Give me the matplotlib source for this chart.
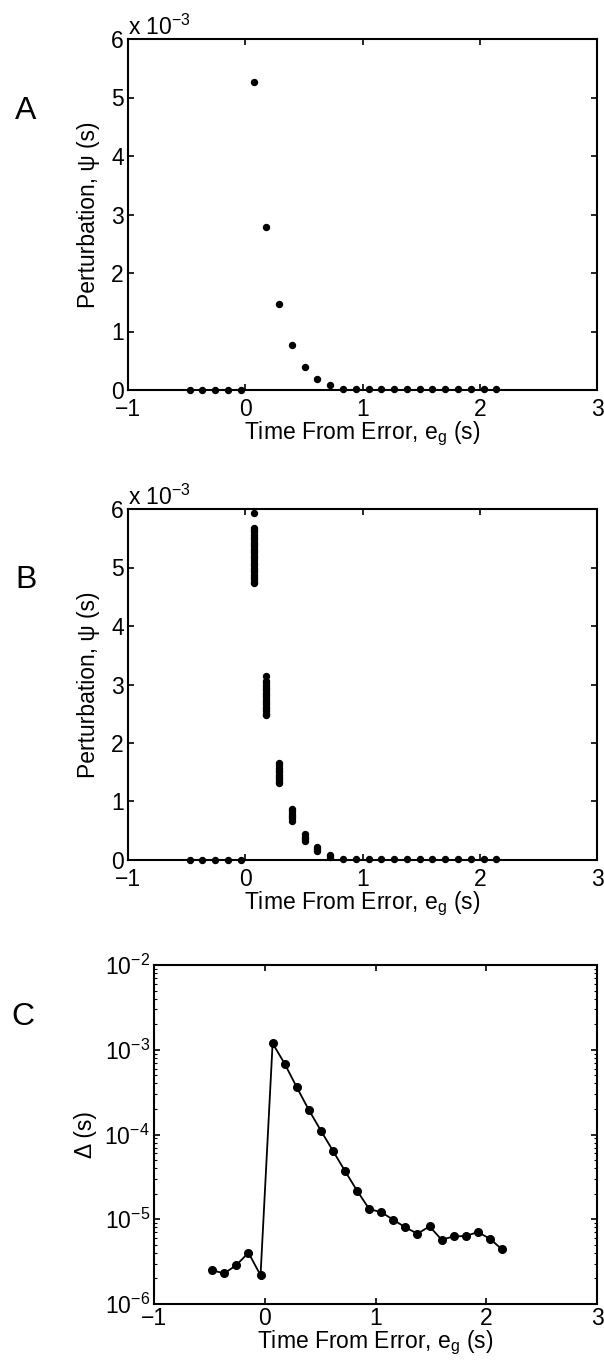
import matplotlib
matplotlib.use("Agg")
import matplotlib.pyplot as plt
from matplotlib.ticker import FixedLocator, FixedFormatter, LogLocator, NullFormatter

plt.rcParams['font.family'] = ['Liberation Sans', 'DejaVu Sans']
plt.rcParams['mathtext.fontset'] = 'custom'
plt.rcParams['mathtext.rm'] = 'Liberation Sans'
plt.rcParams['mathtext.it'] = 'Liberation Sans:italic'
plt.rcParams['mathtext.default'] = 'regular'

# ---------------- data ----------------
time_s = [-0.474, -0.365, -0.256, -0.147, -0.038, 0.071, 0.180, 0.289, 0.398,
          0.507, 0.616, 0.725, 0.834, 0.943, 1.052, 1.161, 1.270, 1.379,
          1.488, 1.597, 1.706, 1.815, 1.924, 2.033, 2.142]

# Panel A: perturbation psi (units of 1e-3 s)
psi_a = [0.0, 0.0, 0.0, 0.0, 0.0, 5.27, 2.78, 1.47, 0.77, 0.39, 0.19, 0.085,
         0.025, 0.02, 0.025, 0.025, 0.025, 0.025, 0.025, 0.025, 0.025, 0.025,
         0.025, 0.02, 0.02]

# Panel B: many trials per time bin (units of 1e-3 s)
psi_b = [
    [0.0], [0.0], [0.0], [0.0], [0.0],
    [5.93, 5.68, 5.64, 5.60, 5.56, 5.52, 5.48, 5.44, 5.40, 5.36, 5.32, 5.28,
     5.24, 5.20, 5.16, 5.12, 5.08, 5.04, 5.00, 4.96, 4.92, 4.88, 4.84, 4.80,
     4.76, 4.74],
    [3.15, 3.06, 3.02, 2.98, 2.94, 2.90, 2.86, 2.82, 2.78, 2.74, 2.70, 2.66,
     2.62, 2.58, 2.54, 2.50, 2.48],
    [1.66, 1.62, 1.58, 1.54, 1.50, 1.46, 1.42, 1.38, 1.34, 1.31],
    [0.87, 0.83, 0.79, 0.75, 0.71, 0.67],
    [0.44, 0.40, 0.36, 0.32],
    [0.22, 0.19, 0.15],
    [0.08, 0.05],
    [0.025], [0.02], [0.025], [0.025], [0.025], [0.025], [0.025], [0.025],
    [0.025], [0.025], [0.025], [0.025], [0.02], [0.02], [0.02],
]

# Panel C: Delta (s)
delta_c = [2.49e-6, 2.30e-6, 2.88e-6, 4.03e-6, 2.18e-6, 1.19e-3, 6.84e-4,
           3.61e-4, 1.95e-4, 1.11e-4, 6.41e-5, 3.70e-5, 2.17e-5, 1.32e-5,
           1.21e-5, 9.86e-6, 8.01e-6, 6.75e-6, 8.24e-6, 5.73e-6, 6.28e-6,
           6.34e-6, 7.06e-6, 5.89e-6, 4.41e-6]

x_ticks = [-1, 0, 1, 2, 3]
x_ticklabels = ['\u22121', '0', '1', '2', '3']
psi_ticks = [0, 1, 2, 3, 4, 5, 6]
delta_ticks = [1e-6, 1e-5, 1e-4, 1e-3, 1e-2]
delta_ticklabels = ['10$^{\u22126}$', '10$^{\u22125}$', '10$^{\u22124}$',
                    '10$^{\u22123}$', '10$^{\u22122}$']

FS = 16.5
W, H = 604, 1372
fig = plt.figure(figsize=(W / 100, H / 100), dpi=100)


def box(l, t, r, b):
    return [l / W, 1 - b / H, (r - l) / W, (b - t) / H]


def style(ax, xpad, xlab_y):
    for s in ax.spines.values():
        s.set_linewidth(1.5)
    ax.tick_params(which='major', direction='in', length=4, width=1.2,
                   top=True, right=True, labelsize=FS)
    ax.tick_params(axis='x', pad=xpad)
    ax.tick_params(axis='y', pad=3)
    ax.set_xlim(-1, 3)
    ax.xaxis.set_major_locator(FixedLocator(x_ticks))
    ax.xaxis.set_major_formatter(FixedFormatter(x_ticklabels))
    ax.set_xlabel('Time From Error, e$_g$ (s)', fontsize=FS)
    ax.xaxis.set_label_coords(0.5, xlab_y)


def psi_axes(ax):
    style(ax, 6, -0.083)
    ax.set_ylim(0, 6e-3)
    ax.yaxis.set_major_locator(FixedLocator([v * 1e-3 for v in psi_ticks]))
    ax.yaxis.set_major_formatter(FixedFormatter([str(v) for v in psi_ticks]))
    ax.set_ylabel('Perturbation, \u03c8 (s)', fontsize=FS)
    ax.yaxis.set_label_coords(-0.06, 0.5)
    ax.text(0.0, 1.012, 'x 10$^{\u22123}$', transform=ax.transAxes,
            fontsize=FS, ha='left', va='baseline')


# Panel A
axA = fig.add_axes(box(128, 39, 597, 390))
axA.plot(time_s, [v * 1e-3 for v in psi_a], 'o', color='black', ms=4.3,
         clip_on=False, zorder=3)
psi_axes(axA)

# Panel B
axB = fig.add_axes(box(128, 509, 597, 860))
for t, ys in zip(time_s, psi_b):
    axB.plot([t] * len(ys), [v * 1e-3 for v in ys], 'o', color='black',
             ms=4.3, clip_on=False, zorder=3)
psi_axes(axB)

# Panel C
axC = fig.add_axes(box(154, 965, 597, 1304))
axC.semilogy(time_s, delta_c, '-o', color='black', ms=5.5, lw=1.3)
style(axC, 2, -0.074)
axC.set_ylim(1e-6, 1e-2)
axC.yaxis.set_major_locator(FixedLocator(delta_ticks))
axC.yaxis.set_major_formatter(FixedFormatter(delta_ticklabels))
axC.yaxis.set_minor_locator(LogLocator(base=10, subs=range(2, 10)))
axC.yaxis.set_minor_formatter(NullFormatter())
axC.tick_params(which='minor', direction='in', length=2, width=0.8,
                right=True)
axC.set_ylabel('\u0394 (s)', fontsize=FS)
axC.yaxis.set_label_coords(-0.129, 0.5)

# panel letters
fig.text(26 / W, 1 - 111 / H, 'A', fontsize=23, ha='center', va='center')
fig.text(26 / W, 1 - 580 / H, 'B', fontsize=23, ha='center', va='center')
fig.text(23 / W, 1 - 1017 / H, 'C', fontsize=23, ha='center', va='center')

fig.savefig('out.png', dpi=100)
